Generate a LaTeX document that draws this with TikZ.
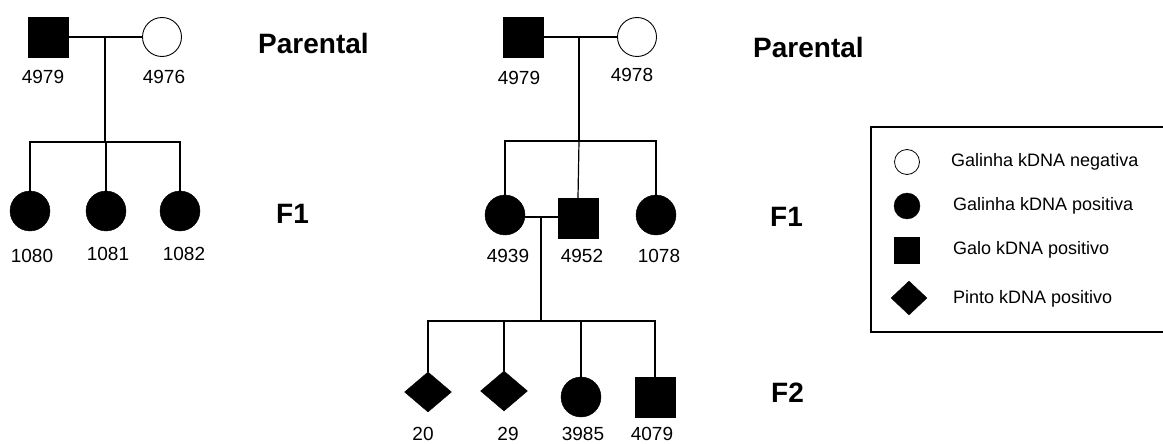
\documentclass[tikz,border=0pt]{standalone}
\usepackage{fontspec}
\setmainfont{Liberation Sans}
\usetikzlibrary{shapes.geometric}
\tikzset{
  sq/.style={rectangle,fill=black,draw=black,minimum size=40pt,inner sep=0pt},
  fc/.style={circle,fill=black,draw=black,minimum size=40pt,inner sep=0pt},
  ec/.style={circle,fill=white,draw=black,line width=0.9pt,minimum size=39pt,inner sep=0pt},
  dm/.style={diamond,fill=black,draw=black,minimum width=47pt,minimum height=40pt,inner sep=0pt},
  lbl/.style={font=\fontsize{19}{19}\selectfont,inner sep=0pt},
  gen/.style={font=\fontsize{28}{28}\selectfont\bfseries,inner sep=0pt,anchor=west},
  leg/.style={font=\fontsize{18}{18}\selectfont,inner sep=0pt,anchor=west},
  ln/.style={line width=1.2pt}
}
\begin{document}
\begin{tikzpicture}[x=1pt,y=-1pt]
\useasboundingbox (0,0) rectangle (1163,444);
% ---------- left pedigree ----------
\node[sq] (A) at (48,37) {};
\node[ec] (B) at (162,37) {};
\node[lbl] (lA) at (43,77) {4979};
\node[lbl] (lB) at (164,77) {4976};
\node[fc] (C1) at (30,211) {};
\node[fc] (C2) at (106,211) {};
\node[fc] (C3) at (180,211) {};
\node[lbl] (lC1) at (32,256) {1080};
\node[lbl] (lC2) at (108,254) {1081};
\node[lbl] (lC3) at (184,254) {1082};
\coordinate (mA) at (105,36);
\coordinate (sA) at (105,142);
\draw[ln] (A.east) -- (B.west);
\draw[ln] (mA) -- (sA);
\draw[ln] (C1.north) -- (C1.north |- sA) -- (C3.north |- sA) -- (C3.north);
\draw[ln] (C2.north) -- (C2.north |- sA);
\node[gen] (P1) at (258,43) {Parental};
\node[gen] (F1a) at (276,214) {F1};
% ---------- right pedigree ----------
\node[sq] (D) at (523,37) {};
\node[ec] (E) at (637,37) {};
\node[lbl] (lD) at (519,78) {4979};
\node[lbl] (lE) at (632,75) {4978};
\node[fc] (G1) at (505,215) {};
\node[sq] (G2) at (578,218) {};
\node[fc] (G3) at (656,215) {};
\node[lbl] (lG1) at (508,256) {4939};
\node[lbl] (lG2) at (582,256) {4952};
\node[lbl] (lG3) at (659,256) {1078};
\coordinate (mD) at (579,37);
\coordinate (sD) at (579,141);
\draw[ln] (D.east) -- (E.west);
\draw[ln] (mD) -- (sD);
\draw[ln] (G1.north) -- (G1.north |- sD) -- (G3.north |- sD) -- (G3.north);
\draw[ln] (G2.north) -- (sD);
\coordinate (mG) at (541,217);
\coordinate (sG) at (541,321);
\draw[ln] (G1.east |- mG) -- (G2.west |- mG);
\draw[ln] (mG) -- (sG);
\node[dm] (H1) at (428,392) {};
\node[dm] (H2) at (504,391) {};
\node[fc] (H3) at (581,397) {};
\node[sq] (H4) at (655,397) {};
\node[lbl] (lH1) at (423,434) {20};
\node[lbl] (lH2) at (508,434) {29};
\node[lbl] (lH3) at (583,434) {3985};
\node[lbl] (lH4) at (652,434) {4079};
\draw[ln] (H1.north) -- (H1.north |- sG) -- (H4.north |- sG) -- (H4.north);
\draw[ln] (H2.north) -- (H2.north |- sG);
\draw[ln] (H3.north) -- (H3.north |- sG);
\node[gen] (P2) at (753,47) {Parental};
\node[gen] (F1b) at (770,217) {F1};
\node[gen] (F2) at (771,393) {F2};
% ---------- legend ----------
\coordinate (LT) at (1180,127);
\coordinate (LB) at (1180,332);
\draw[line width=1.1pt] (LT) -- (871,127) -- (871,332) -- (LB);
\node[ec,minimum size=25pt,line width=0.8pt] (K1) at (907,162) {};
\node[fc,minimum size=26pt] (K2) at (907,206) {};
\node[sq,minimum width=25pt,minimum height=26pt] (K3) at (907,250) {};
\node[dm,minimum width=36pt,minimum height=34pt] (K4) at (909,298) {};
\node[leg] (T1) at (951,162) {Galinha kDNA negativa};
\node[leg] (T2) at (953,206) {Galinha kDNA positiva};
\node[leg] (T3) at (953,250) {Galo kDNA positivo};
\node[leg] (T4) at (953,299) {Pinto kDNA positivo};
\end{tikzpicture}
\end{document}
